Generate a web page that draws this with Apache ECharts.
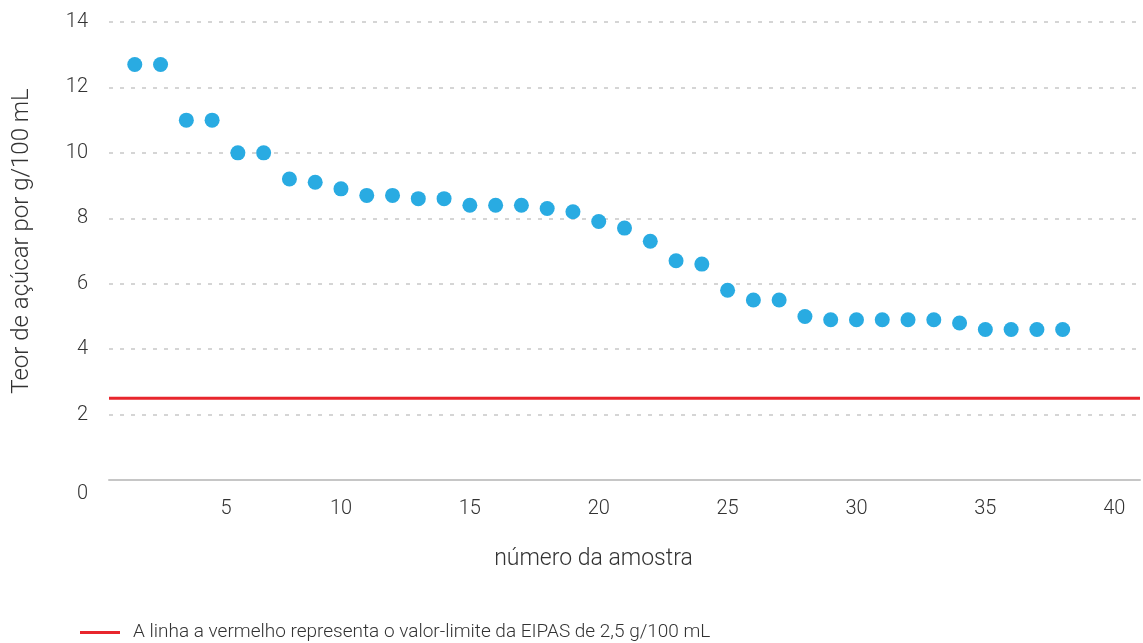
<!DOCTYPE html>
<html>
<head>
<meta charset="utf-8">
<script src="https://cdn.jsdelivr.net/npm/echarts@6/dist/echarts.min.js"></script>
<style>
  html, body { margin: 0; padding: 0; background: #fff; }
  #chart { width: 1143px; height: 643px; }
</style>
</head>
<body>
<div id="chart"></div>
<script>
// número da amostra e teor de açúcar (g/100 mL)
const amostras = [2, 3, 4, 5, 6, 7, 8, 9, 10, 11, 12, 13, 14, 15, 16, 17, 18, 19, 20,
  21, 22, 23, 24, 25, 26, 27, 28, 29, 30, 31, 32, 33, 34, 35, 36, 37, 38];
const teores = [12.7, 12.7, 11, 11, 10, 10, 9.2, 9.1, 8.9, 8.7, 8.7, 8.6, 8.6, 8.4, 8.4, 8.4, 8.3, 8.2, 7.9,
  7.7, 7.3, 6.7, 6.6, 5.8, 5.5, 5.5, 5.0, 4.9, 4.9, 4.9, 4.9, 4.9, 4.8, 4.6, 4.6, 4.6, 4.6];
const limite = 2.5;
const limiteX = [1, 41];
const nomeLimite = 'A linha a vermelho representa o valor-limite da EIPAS de 2,5 g/100 mL';

const chart = echarts.init(document.getElementById('chart'));

const axisFont = 'Roboto';
const txt = { fontFamily: axisFont, fontWeight: 300, fontSize: 20, color: '#333' };

const option = {
  animation: false,
  grid: { left: 109, right: 0, top: 22, bottom: 163 },
  legend: {
    data: [nomeLimite],
    left: 80,
    top: 623,
    padding: 0,
    icon: 'rect',
    itemWidth: 40,
    itemHeight: 3,
    itemGap: 0,
    textStyle: {
      fontFamily: axisFont, fontWeight: 300, fontSize: 19, color: '#333',
      padding: [0, 0, 0, 8]
    }
  },
  xAxis: {
    type: 'value',
    min: 1,
    max: 41,
    interval: 1,
    name: 'número da amostra',
    nameLocation: 'middle',
    nameGap: 68,
    nameTextStyle: {
      fontFamily: axisFont, fontWeight: 300, fontSize: 23, color: '#333',
      padding: [0, 62, 0, 0]
    },
    axisLine: { show: true, lineStyle: { color: '#c6c6c6', width: 2 } },
    axisTick: { show: false },
    splitLine: { show: false },
    axisLabel: Object.assign({
      margin: 19,
      formatter: v => (v === 5 ? '{c|5}' : v % 5 === 0 ? String(v) : ''),
      rich: { c: Object.assign({ padding: [0, 0, 0, 28] }, txt) }
    }, txt)
  },
  yAxis: {
    type: 'value',
    min: 0,
    max: 14,
    interval: 2,
    name: 'Teor de açúcar por g/100 mL',
    nameLocation: 'middle',
    nameGap: 75,
    nameTextStyle: {
      fontFamily: axisFont, fontWeight: 300, fontSize: 24, color: '#333',
      padding: [0, 0, 0, 20]
    },
    axisLine: { show: false },
    axisTick: { show: false },
    splitLine: { lineStyle: { color: '#c8c8c8', type: [4, 7], width: 1.5 } },
    axisLabel: Object.assign({
      margin: 21,
      formatter: v => (v === 0 ? '{z|0}' : String(v)),
      rich: { z: Object.assign({ padding: [28, 0, 0, 0] }, txt) }
    }, txt)
  },
  series: [
    {
      name: nomeLimite,
      type: 'line',
      data: limiteX.map(x => [x, limite]),
      symbol: 'none',
      lineStyle: { color: '#e8262d', width: 3 },
      itemStyle: { color: '#e8262d' },
      z: 1
    },
    {
      name: 'amostras',
      type: 'scatter',
      data: amostras.map((x, i) => [x, teores[i]]),
      symbolSize: 15,
      itemStyle: { color: '#29abe2', opacity: 1 },
      z: 3
    }
  ]
};

chart.setOption(option);
</script>
</body>
</html>
